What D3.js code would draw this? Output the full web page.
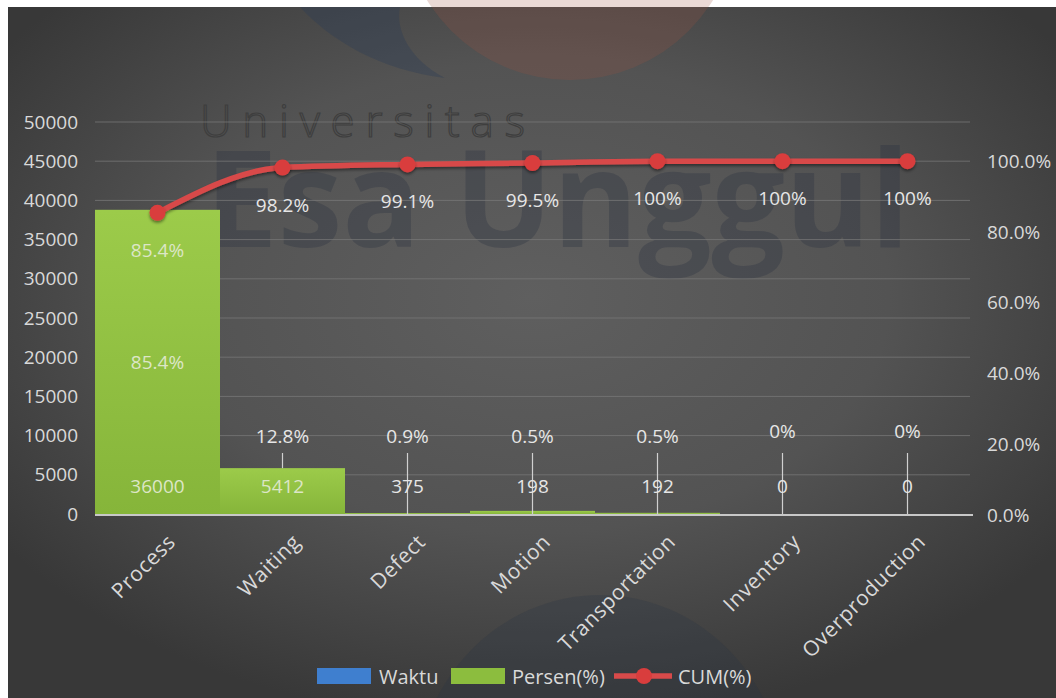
<!DOCTYPE html>
<html>
<head>
<meta charset="utf-8">
<script src="https://cdn.jsdelivr.net/npm/d3@7"></script>
<style>
  html, body { margin: 0; padding: 0; background: #fff; }
  svg { display: block; }
  text { font-family: "Open Sans", sans-serif; }
</style>
</head>
<body>
<svg id="chart"></svg>
<script>
// Data
const categories = ['Process', 'Waiting', 'Defect', 'Motion', 'Transportation', 'Inventory', 'Overproduction'];
const waktu = [36000, 5412, 375, 198, 192, 0, 0];
const persen = [85.4, 12.8, 0.9, 0.5, 0.5, 0, 0];
const cum = [85.4, 98.2, 99.1, 99.5, 100, 100, 100];
// visible height of the green bars (as drawn in the picture)
const barValue = [38800, 5850, 120, 400, 150, 0, 0];
const leftTicks = [0, 5000, 10000, 15000, 20000, 25000, 30000, 35000, 40000, 45000, 50000];
const rightTicks = [0, 0.2, 0.4, 0.6, 0.8, 1.0];
const legendItems = ['Waktu', 'Persen(%)', 'CUM(%)'];

const width = 1056;
const height = 698;

const svg = d3.select('#chart')
  .attr('width', width)
  .attr('height', height);

const defs = svg.append('defs');

// Background gradient
const bg = defs.append('radialGradient')
  .attr('id', 'bg')
  .attr('cx', 0.5).attr('cy', 0.42).attr('r', 0.62);
bg.append('stop').attr('offset', '0%').attr('stop-color', '#5f5f5f');
bg.append('stop').attr('offset', '55%').attr('stop-color', '#535353');
bg.append('stop').attr('offset', '100%').attr('stop-color', '#383838');

const barGrad = defs.append('linearGradient')
  .attr('id', 'barGrad')
  .attr('x1', 0).attr('y1', 0).attr('x2', 0).attr('y2', 1);
barGrad.append('stop').attr('offset', '0%').attr('stop-color', '#9ccb4a');
barGrad.append('stop').attr('offset', '100%').attr('stop-color', '#86b53a');

const shadow = defs.append('filter').attr('id', 'shadow')
  .attr('x', '-20%').attr('y', '-20%').attr('width', '140%').attr('height', '160%');
shadow.append('feDropShadow')
  .attr('dx', 0).attr('dy', 2).attr('stdDeviation', 1.5)
  .attr('flood-color', '#000').attr('flood-opacity', 0.45);

// Frame (white strip top/left like the screenshot)
svg.append('rect')
  .attr('x', 8).attr('y', 7)
  .attr('width', width - 8).attr('height', height - 7)
  .attr('fill', 'url(#bg)');

// Watermark (faint logo and text)
const wm = svg.append('g').attr('class', 'watermark');
wm.append('circle')
  .attr('cx', 570).attr('cy', -88).attr('r', 168)
  .attr('fill', '#a05040').attr('opacity', 0.22);
wm.append('path')
  .attr('d', 'M300,7 C330,40 380,70 445,78 C410,60 395,30 400,7 Z')
  .attr('fill', '#2c3d55').attr('opacity', 0.35);
wm.append('ellipse')
  .attr('cx', 600).attr('cy', 790).attr('rx', 185).attr('ry', 195)
  .attr('fill', '#283445').attr('opacity', 0.25);
wm.append('text')
  .attr('x', 200).attr('y', 137)
  .attr('textLength', 325)
  .attr('font-size', 44)
  .attr('font-weight', 300)
  .attr('fill', 'none')
  .attr('stroke', '#3e3e3e')
  .attr('stroke-width', 1.2)
  .text('Universitas');
wm.append('text')
  .attr('x', 205).attr('y', 247)
  .attr('textLength', 705)
  .attr('lengthAdjust', 'spacingAndGlyphs')
  .attr('font-size', 134)
  .attr('font-weight', 700)
  .attr('fill', '#2a3140')
  .attr('opacity', 0.32)
  .text('Esa Unggul');

// Scales
const x = d3.scaleBand()
  .domain(categories)
  .range([95, 970])
  .padding(0);

const y = d3.scaleLinear()
  .domain([0, 50000])
  .range([514, 122]);

const y2 = d3.scaleLinear()
  .domain([0, 1])
  .range([y(0) + 1, y(45000)]);

const cx = d => x(d) + x.bandwidth() / 2;

// Gridlines
svg.append('g')
  .selectAll('line')
  .data(leftTicks.filter(t => t > 0))
  .enter().append('line')
    .attr('x1', 95).attr('x2', 970)
    .attr('y1', d => y(d)).attr('y2', d => y(d))
    .attr('stroke', '#7a7a7a')
    .attr('stroke-opacity', 0.75)
    .attr('stroke-width', 1);

// Left axis
const leftAxis = svg.append('g')
  .attr('transform', 'translate(80,0)')
  .call(d3.axisLeft(y).tickValues(leftTicks).tickSize(0).tickPadding(2).tickFormat(d3.format('d')));
leftAxis.select('.domain').remove();
leftAxis.selectAll('text')
  .attr('font-size', 19)
  .attr('font-family', '"Open Sans", sans-serif')
  .attr('fill', '#d9d9d9');

// Right axis
const rightAxis = svg.append('g')
  .attr('transform', 'translate(985,0)')
  .call(d3.axisRight(y2).tickValues(rightTicks).tickSize(0).tickPadding(2).tickFormat(d3.format('.1%')));
rightAxis.select('.domain').remove();
rightAxis.selectAll('text')
  .attr('font-size', 19)
  .attr('font-family', '"Open Sans", sans-serif')
  .attr('fill', '#d9d9d9');

// Bars
svg.append('g')
  .selectAll('rect')
  .data(categories)
  .enter().append('rect')
    .attr('x', d => x(d))
    .attr('y', (d, i) => y(barValue[i]))
    .attr('width', x.bandwidth())
    .attr('height', (d, i) => y(0) - y(barValue[i]))
    .attr('fill', 'url(#barGrad)');

// Baseline
svg.append('line')
  .attr('x1', 95).attr('x2', 973)
  .attr('y1', y(0) + 1).attr('y2', y(0) + 1)
  .attr('stroke', '#c8c8c8')
  .attr('stroke-width', 2);

// Leader lines for the small columns
svg.append('g')
  .selectAll('line')
  .data(categories.slice(1))
  .enter().append('line')
    .attr('x1', d => cx(d)).attr('x2', d => cx(d))
    .attr('y1', 453)
    .attr('y2', (d, i) => i === 0 ? y(barValue[1]) : y(0))
    .attr('stroke', '#d0d0d0')
    .attr('stroke-width', 1.2);

// CUM line
const line = d3.line()
  .x((d, i) => cx(categories[i]))
  .y(d => y2(d / 100))
  .curve(d3.curveMonotoneX);

svg.append('path')
  .datum(cum)
  .attr('d', line)
  .attr('fill', 'none')
  .attr('stroke', '#d84a4a')
  .attr('stroke-width', 5.5)
  .attr('filter', 'url(#shadow)');

svg.append('g')
  .selectAll('circle')
  .data(cum)
  .enter().append('circle')
    .attr('cx', (d, i) => cx(categories[i]))
    .attr('cy', d => y2(d / 100))
    .attr('r', 8)
    .attr('fill', '#d93d3d')
    .attr('filter', 'url(#shadow)');

// Data labels
const fmtPct = v => (v === 0 ? '0' : (Number.isInteger(v) ? v : v.toFixed(1))) + '%';
const inBar = i => i <= 1;
const labels = svg.append('g')
  .attr('font-size', 19)
  .attr('text-anchor', 'middle')
  .attr('dominant-baseline', 'central');

// cumulative labels
labels.selectAll('.cum-label')
  .data(cum)
  .enter().append('text')
    .attr('class', 'cum-label')
    .attr('x', (d, i) => cx(categories[i]))
    .attr('y', d => y2(d / 100) + 37)
    .attr('fill', (d, i) => i === 0 ? '#dce6c6' : '#e6e6e6')
    .text(d => fmtPct(d));

// persen labels
labels.selectAll('.persen-label')
  .data(persen)
  .enter().append('text')
    .attr('class', 'persen-label')
    .attr('x', (d, i) => cx(categories[i]))
    .attr('y', (d, i) => i === 0 ? (y(barValue[0]) + y(0)) / 2 : (d === 0 ? y(10000) - 5 : y(10000)))
    .attr('fill', (d, i) => i === 0 ? '#dce6c6' : '#e6e6e6')
    .text(d => fmtPct(d));

// waktu labels
labels.selectAll('.waktu-label')
  .data(waktu)
  .enter().append('text')
    .attr('class', 'waktu-label')
    .attr('x', (d, i) => cx(categories[i]))
    .attr('y', y(0) - 28)
    .attr('fill', (d, i) => inBar(i) ? '#dce6c6' : '#e6e6e6')
    .text(d => d);

// X labels
svg.append('g')
  .selectAll('text')
  .data(categories)
  .enter().append('text')
    .attr('transform', d => `translate(${cx(d) + 14},${538}) rotate(-45)`)
    .attr('text-anchor', 'end')
    .attr('dy', '0.35em')
    .attr('font-size', 21)
    .attr('letter-spacing', 0.6)
    .attr('fill', '#d9d9d9')
    .text(d => d);

// Legend
const legend = svg.append('g').attr('transform', 'translate(0,676)');
const legendX = [317, 451, 614];
const legendTextX = [379, 512, 678];

legend.append('rect')
  .attr('x', legendX[0]).attr('y', -8).attr('width', 54).attr('height', 16)
  .attr('fill', '#3f7fcf');
legend.append('rect')
  .attr('x', legendX[1]).attr('y', -8).attr('width', 54).attr('height', 16)
  .attr('fill', '#8cbd3e');
legend.append('line')
  .attr('x1', legendX[2]).attr('x2', legendX[2] + 58)
  .attr('y1', 0).attr('y2', 0)
  .attr('stroke', '#d84a4a').attr('stroke-width', 5.5);
legend.append('circle')
  .attr('cx', legendX[2] + 30).attr('cy', 0).attr('r', 8)
  .attr('fill', '#d93d3d');

legend.selectAll('text')
  .data(legendItems)
  .enter().append('text')
    .attr('x', (d, i) => legendTextX[i])
    .attr('y', 0)
    .attr('dominant-baseline', 'central')
    .attr('font-size', 20)
    .attr('fill', '#d9d9d9')
    .text(d => d);
</script>
</body>
</html>
